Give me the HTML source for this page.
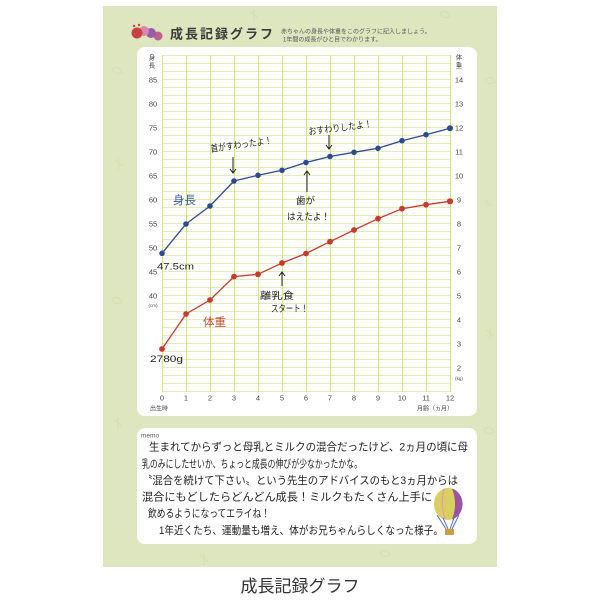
<!DOCTYPE html>
<html><head><meta charset="utf-8">
<style>
html,body{margin:0;padding:0;background:#fff;}
svg{display:block;}
text{font-family:"Liberation Sans","Noto Sans CJK JP",sans-serif;}
.hw{font-family:"Noto Sans CJK JP","Liberation Sans",sans-serif;}
</style></head>
<body>
<svg width="600" height="600" viewBox="0 0 600 600" xmlns="http://www.w3.org/2000/svg">
<rect x="0" y="0" width="600" height="600" fill="#fff"/>
<!-- green card -->
<rect x="103" y="6" width="394" height="561" fill="#dee6c0"/>
<!-- faint doodles -->
<g stroke="#d2dcae" stroke-width="1" fill="none" opacity="0.8">
<path d="M112 70 q6 -6 10 2 q-6 4 -10 -2z"/><path d="M115 160 l8 6 m-4 -8 l0 12"/>
<path d="M485 80 q6 -6 10 2 q-6 4 -10 -2z"/><path d="M484 200 l8 6 m-4 -8 l0 12"/>
<path d="M112 300 q6 -6 10 2 q-6 4 -10 -2z"/><path d="M486 330 l8 6 m-4 -8 l0 12"/>
<path d="M114 420 l8 6 m-4 -8 l0 12"/><path d="M484 430 q6 -6 10 2 q-6 4 -10 -2z"/>
<path d="M200 555 l8 6 m-4 -8 l0 12"/><path d="M380 553 q6 -6 10 2 q-6 4 -10 -2z"/>
<path d="M250 12 l8 6 m-4 -8 l0 12"/><path d="M440 14 q6 -6 10 2 q-6 4 -10 -2z"/>
</g>
<!-- caterpillar -->
<g>
<circle cx="158" cy="36" r="4.5" fill="#c06090"/>
<circle cx="151" cy="33" r="5" fill="#9a5ca8"/>
<circle cx="144" cy="31" r="5" fill="#d888b0"/>
<circle cx="137" cy="33" r="5.5" fill="#c84040"/>
<circle cx="134" cy="26" r="1.2" fill="#c84040"/>
<circle cx="139" cy="25" r="1.2" fill="#c84040"/>
</g>
<!-- header -->
<text x="170" y="38.5" font-size="13" font-weight="bold" letter-spacing="2" fill="#3a3a3a">成長記録グラフ</text>
<text x="281" y="33.5" font-size="6" fill="#555">赤ちゃんの身長や体重をこのグラフに記入しましょう。</text>
<text x="283" y="41.5" font-size="6" fill="#555">1年間の成長がひと目でわかります。</text>

<!-- chart panel -->
<rect x="137" y="47" width="340" height="369" rx="8" fill="#fff"/>
<!-- grid horizontal -->
<g stroke="#e3eabf" stroke-width="0.9">
<path d="M162 55.5H450M162 63.5H450M162 71.5H450M162 79.5H450M162 87.5H450M162 95.5H450M162 103.5H450M162 111.5H450M162 119.5H450M162 127.5H450M162 135.5H450M162 143.5H450M162 151.5H450M162 159.5H450M162 167.5H450M162 175.5H450M162 183.5H450M162 191.5H450M162 199.5H450M162 207.5H450M162 215.5H450M162 223.5H450M162 231.5H450M162 239.5H450M162 247.5H450M162 255.5H450M162 263.5H450M162 271.5H450M162 279.5H450M162 287.5H450M162 295.5H450M162 303.5H450M162 311.5H450M162 319.5H450M162 327.5H450M162 335.5H450M162 343.5H450M162 351.5H450M162 359.5H450M162 367.5H450M162 375.5H450M162 383.5H450M162 391.5H450"/>
</g>
<!-- grid vertical -->
<g stroke="#d5e09c" stroke-width="1">
<path d="M162.5 55V392M186.5 55V392M210.5 55V392M234.5 55V392M258.5 55V392M282.5 55V392M306.5 55V392M330.5 55V392M354.5 55V392M378.5 55V392M402.5 55V392M426.5 55V392M450.5 55V392"/>
</g>
<!-- left axis -->
<g font-size="7.5" fill="#444" text-anchor="middle">
<text x="152" y="59.5" font-size="6.5">身</text>
<text x="152" y="67.5" font-size="6.5">長</text>
<text x="153" y="82.5">85</text>
<text x="153" y="106.5">80</text>
<text x="153" y="130.5">75</text>
<text x="153" y="154.5">70</text>
<text x="153" y="178.5">65</text>
<text x="153" y="202.5">60</text>
<text x="153" y="226.5">55</text>
<text x="153" y="250.5">50</text>
<text x="153" y="274.5">45</text>
<text x="153" y="298.5">40</text>
<text x="153" y="307" font-size="4.5">(cm)</text>
</g>
<!-- right axis -->
<g font-size="7.5" fill="#444" text-anchor="middle">
<text x="459" y="59.5" font-size="6.5">体</text>
<text x="459" y="67.5" font-size="6.5">重</text>
<text x="459" y="82.5">14</text>
<text x="459" y="106.5">13</text>
<text x="459" y="130.5">12</text>
<text x="459" y="154.5">11</text>
<text x="459" y="178.5">10</text>
<text x="459" y="202.5">9</text>
<text x="459" y="226.5">8</text>
<text x="459" y="250.5">7</text>
<text x="459" y="274.5">6</text>
<text x="459" y="298.5">5</text>
<text x="459" y="322.5">4</text>
<text x="459" y="346.5">3</text>
<text x="459" y="370.5">2</text>
<text x="459" y="380" font-size="4.5">(kg)</text>
</g>
<!-- x axis -->
<g font-size="7.5" fill="#444" text-anchor="middle">
<text x="162" y="400.5">0</text><text x="186" y="400.5">1</text><text x="210" y="400.5">2</text>
<text x="234" y="400.5">3</text><text x="258" y="400.5">4</text><text x="282" y="400.5">5</text>
<text x="306" y="400.5">6</text><text x="330" y="400.5">7</text><text x="354" y="400.5">8</text>
<text x="378" y="400.5">9</text><text x="402" y="400.5">10</text><text x="426" y="400.5">11</text>
<text x="450" y="400.5">12</text>
</g>
<text x="150" y="410.5" font-size="6" fill="#444">出生時</text>
<text x="453" y="410.5" font-size="6" fill="#444" text-anchor="end">月齢（ヵ月）</text>

<!-- height series -->
<polyline fill="none" stroke="#2e4a8e" stroke-width="1.3" points="162,253.3 186,224 210,206 234,181 258,175.3 282,170.3 306,162.5 330,156.5 354,152.3 378,148.3 402,140.7 426,134.7 450,128.3"/>
<g fill="#2e4a8e">
<circle cx="162" cy="253.3" r="2.8"/><circle cx="186" cy="224" r="2.8"/><circle cx="210" cy="206" r="2.8"/>
<circle cx="234" cy="181" r="2.8"/><circle cx="258" cy="175.3" r="2.8"/><circle cx="282" cy="170.3" r="2.8"/>
<circle cx="306" cy="162.5" r="2.8"/><circle cx="330" cy="156.5" r="2.8"/><circle cx="354" cy="152.3" r="2.8"/>
<circle cx="378" cy="148.3" r="2.8"/><circle cx="402" cy="140.7" r="2.8"/><circle cx="426" cy="134.7" r="2.8"/>
<circle cx="450" cy="128.3" r="3"/>
</g>
<!-- weight series -->
<polyline fill="none" stroke="#c43c2c" stroke-width="1.3" points="162,349 186,314 210,300 234,276.6 258,274.3 282,263 306,253.5 330,241.7 354,230 378,218.7 402,208.7 426,204.7 450,201.3"/>
<g fill="#c43c2c">
<circle cx="162" cy="349" r="2.9"/><circle cx="186" cy="314" r="2.9"/><circle cx="210" cy="300" r="2.9"/>
<circle cx="234" cy="276.6" r="2.9"/><circle cx="258" cy="274.3" r="2.9"/><circle cx="282" cy="263" r="2.9"/>
<circle cx="306" cy="253.5" r="2.9"/><circle cx="330" cy="241.7" r="2.9"/><circle cx="354" cy="230" r="2.9"/>
<circle cx="378" cy="218.7" r="2.9"/><circle cx="402" cy="208.7" r="2.9"/><circle cx="426" cy="204.7" r="2.9"/>
<circle cx="450" cy="201.3" r="3.1"/>
</g>

<!-- annotations -->
<g class="hw" fill="#222">
<text x="210" y="148" font-size="9.5" transform="rotate(-8 240 143)" textLength="62" lengthAdjust="spacingAndGlyphs">首がすわったよ！</text>
<text x="308" y="131" font-size="9.5" transform="rotate(-7 340 126)" textLength="64" lengthAdjust="spacingAndGlyphs">おすわりしたよ！</text>
<text x="296" y="204" font-size="9.5">歯が</text>
<text x="287" y="220" font-size="9.5" textLength="43" lengthAdjust="spacingAndGlyphs">はえたよ！</text>
<text x="260" y="299" font-size="9.5" textLength="34" lengthAdjust="spacingAndGlyphs">離乳食</text>
<text x="271" y="312" font-size="9.5" textLength="37" lengthAdjust="spacingAndGlyphs">スタート！</text>
<text x="157" y="269.5" font-size="9.5" textLength="37" lengthAdjust="spacingAndGlyphs">47.5cm</text>
<text x="150" y="362" font-size="9.5" textLength="33" lengthAdjust="spacingAndGlyphs">2780g</text>
<text x="173" y="204" font-size="11.5" fill="#3a5aa0">身長</text>
<text x="203" y="326" font-size="11.5" fill="#c84a30">体重</text>
</g>
<g stroke="#222" stroke-width="1" fill="none">
<path d="M233 157V173M230 169L233 173L236 169"/>
<path d="M329 135V149M326 145L329 149L332 145"/>
<path d="M307 192V171M304 175L307 171L310 175"/>
<path d="M282 286V272M279 276L282 272L285 276"/>
</g>

<!-- memo panel -->
<rect x="137" y="428" width="340" height="116" rx="8" fill="#fff"/>
<text x="141" y="437.5" font-size="6.5" fill="#555">memo</text>
<g class="hw" fill="#1e1e1e" font-size="11">
<text x="149" y="450.5" textLength="319" lengthAdjust="spacingAndGlyphs">生まれてからずっと母乳とミルクの混合だったけど、2ヵ月の頃に母</text>
<text x="142" y="467.5" textLength="220" lengthAdjust="spacingAndGlyphs">乳のみにしたせいか、ちょっと成長の伸びが少なかったかな。</text>
<text x="142" y="484" textLength="316" lengthAdjust="spacingAndGlyphs">〝混合を続けて下さい〟という先生のアドバイスのもと3ヵ月からは</text>
<text x="142" y="500.5" textLength="290" lengthAdjust="spacingAndGlyphs">混合にもどしたらどんどん成長！ミルクもたくさん上手に</text>
<text x="148" y="517" textLength="122" lengthAdjust="spacingAndGlyphs">飲めるようになってエライね！</text>
<text x="159" y="534" textLength="284" lengthAdjust="spacingAndGlyphs">1年近くたち、運動量も増え、体がお兄ちゃんらしくなった様子。</text>
</g>
<!-- balloon -->
<g>
<ellipse cx="448" cy="504" rx="14" ry="16" fill="#d9d060"/>
<path d="M452 488.5 A14 16 0 0 1 452 519.5 Q458 504 452 488.5z" fill="#9c55a4"/>
<path d="M444 489 Q440 504 445 519" stroke="#e8a0a0" stroke-width="1.5" fill="none"/>
<path d="M437 515 L446 529 M459 515 L452 529 M443 518 L448 529 M454 518 L450 529" stroke="#4f6fb8" stroke-width="1"/>
<rect x="445" y="529" width="9" height="6" fill="#c8a040"/>
</g>

<!-- caption -->
<text x="300" y="592" font-size="17" fill="#333" text-anchor="middle">成長記録グラフ</text>
</svg>
</body></html>
